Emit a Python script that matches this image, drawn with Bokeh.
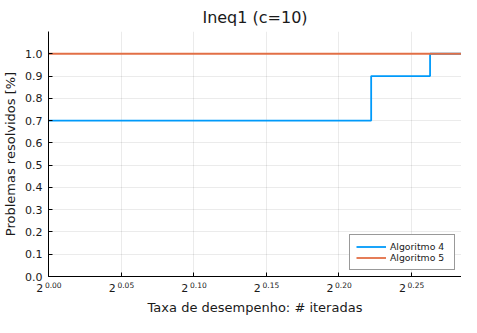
from bokeh.plotting import figure
from bokeh.models import FixedTicker, Legend, LegendItem, CustomJSTickFormatter, LogAxis
from bokeh.embed import file_html
from bokeh.resources import INLINE

# ---- data ----
title = "Ineq1 (c=10)"
x_label = "Taxa de desempenho: # iteradas"
y_label = "Problemas resolvidos [%]"
series_names = ["Algoritmo 4", "Algoritmo 5"]
alg4_ratio = [1.0, 1.1667, 1.2, 1.2183]
alg4_frac = [0.7, 0.9, 1.0, 1.0]
alg5_ratio = [1.0, 1.2183]
alg5_frac = [1.0, 1.0]
x_tick_base = "2"
x_tick_exponents = [0.00, 0.05, 0.10, 0.15, 0.20, 0.25]
x_tick_exponent_labels = ["0.00", "0.05", "0.10", "0.15", "0.20", "0.25"]
y_ticks = [0.0, 0.1, 0.2, 0.3, 0.4, 0.5, 0.6, 0.7, 0.8, 0.9, 1.0]
y_tick_labels = ["0.0", "0.1", "0.2", "0.3", "0.4", "0.5", "0.6", "0.7", "0.8", "0.9", "1.0"]
x_max = 2 ** 0.2847
y_max = 1.1

FONT = "DejaVu Sans"
BLUE = "#009AFA"
ORANGE = "#E26F46"
TXT = "#1a1a1a"
FIG_SP = "\u2007"
NBSP = "\u00a0"

x_tick_vals = [2 ** t for t in x_tick_exponents]

p = figure(width=461, height=317, x_axis_type="log",
           x_range=(1.0, x_max), y_range=(0.0, y_max),
           output_backend="svg", toolbar_location=None,
           min_border_left=43, min_border_right=0,
           min_border_top=23, min_border_bottom=30)

p.title.text = title
p.title.align = "center"
p.title.text_font = FONT
p.title.text_font_size = "16px"
p.title.text_font_style = "normal"
p.title.text_color = TXT

p.outline_line_color = None
p.background_fill_color = "white"

# main axes
base_labels = [x_tick_base + FIG_SP + FIG_SP + NBSP for _ in x_tick_vals]
p.xaxis.ticker = FixedTicker(ticks=x_tick_vals)
p.xaxis.formatter = CustomJSTickFormatter(args=dict(labels=base_labels),
                                          code="return labels[index]")
p.yaxis.ticker = FixedTicker(ticks=y_ticks)
p.yaxis.formatter = CustomJSTickFormatter(args=dict(labels=y_tick_labels),
                                          code="return labels[index]")
for ax in (p.xaxis, p.yaxis):
    ax.axis_line_color = "black"
    ax.axis_line_width = 1
    ax.major_tick_in = 4
    ax.major_tick_out = 0
    ax.minor_tick_line_color = None
    ax.major_tick_line_color = "black"
    ax.major_label_text_font = FONT
    ax.major_label_text_font_size = "11px"
    ax.major_label_text_color = TXT
p.yaxis.axis_label = y_label
p.yaxis.axis_label_text_font = FONT
p.yaxis.axis_label_text_font_size = "13px"
p.yaxis.axis_label_text_font_style = "normal"
p.yaxis.axis_label_text_color = TXT
p.yaxis.major_label_standoff = 6
p.yaxis.axis_label_standoff = 4
p.xaxis.major_label_standoff = 5

# exponent axis (superscripts of the x tick labels)
exp_labels = [FIG_SP + FIG_SP + s for s in x_tick_exponent_labels]
exp_axis = LogAxis(ticker=FixedTicker(ticks=x_tick_vals),
                   formatter=CustomJSTickFormatter(args=dict(labels=exp_labels),
                                                   code="return labels[index]"),
                   axis_line_color=None, major_tick_line_color=None,
                   minor_tick_line_color=None,
                   major_label_text_font=FONT, major_label_text_font_size="7.5px",
                   major_label_text_color=TXT, major_label_standoff=-23,
                   axis_label=x_label, axis_label_text_font=FONT,
                   axis_label_text_font_size="13px", axis_label_text_font_style="normal",
                   axis_label_text_color=TXT, axis_label_standoff=7)
p.add_layout(exp_axis, "below")

p.grid.grid_line_color = "black"
p.grid.grid_line_alpha = 0.08
p.grid.grid_line_width = 1
p.xgrid.ticker = FixedTicker(ticks=x_tick_vals)
p.ygrid.ticker = FixedTicker(ticks=y_ticks)

r4 = p.step(alg4_ratio, alg4_frac, mode="after", line_color=BLUE, line_width=1.8)
r5 = p.step(alg5_ratio, alg5_frac, mode="after", line_color=ORANGE, line_width=1.8)

legend = Legend(items=[LegendItem(label=series_names[0], renderers=[r4]),
                       LegendItem(label=series_names[1], renderers=[r5])],
                location="bottom_right")
legend.label_text_font = FONT
legend.label_text_font_size = "9.3px"
legend.label_text_color = TXT
legend.padding = 6
legend.spacing = 0
legend.margin = 6
legend.label_height = 11
legend.glyph_height = 11
legend.glyph_width = 30
legend.label_standoff = 4
legend.label_width = 58
legend.border_line_color = "#333333"
legend.border_line_width = 1
legend.background_fill_alpha = 1.0
p.add_layout(legend)

open("out.html", "w").write(file_html(p, INLINE))
